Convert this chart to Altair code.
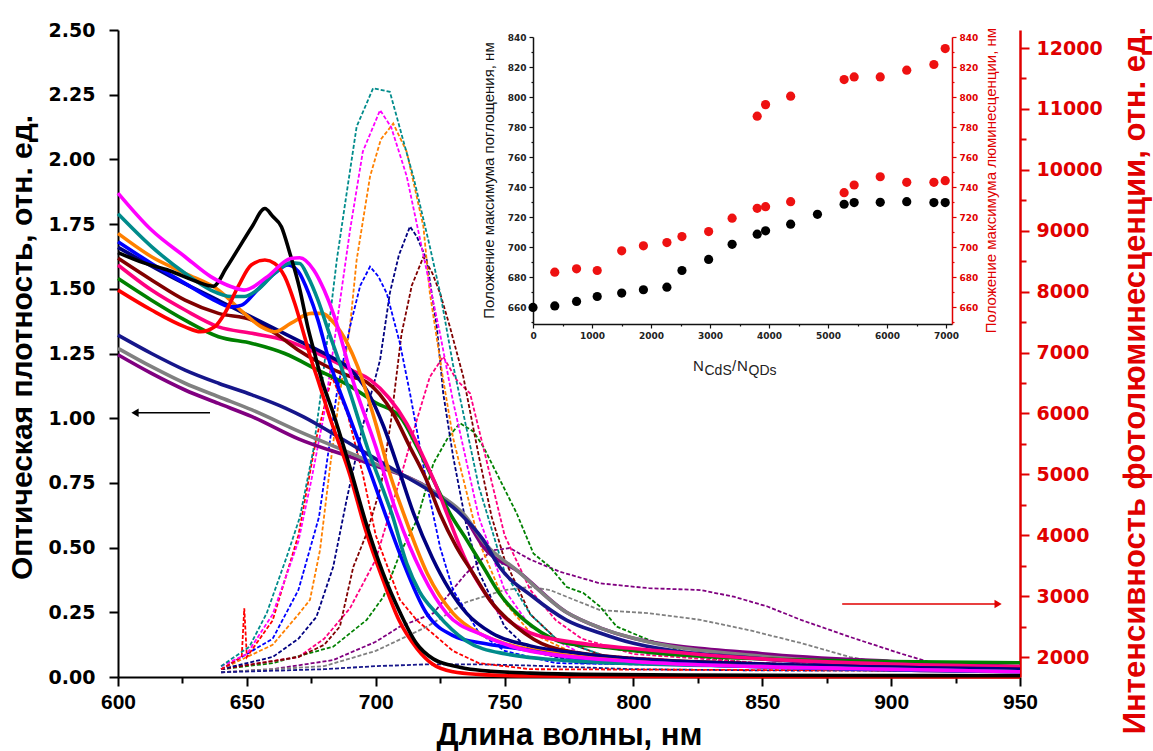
import altair as alt
import pandas as pd

# ---------------- absorbance spectra (left axis, optical density) ----------------
A_BLACK_WL = [600, 610, 620, 630, 637, 642, 647, 652, 657, 660, 663.4, 666.6, 670.5, 673.7, 676.3, 679, 683.5, 690, 696.4, 702.9, 709.4, 715.8, 722.3, 728.8, 735, 745, 760, 780, 820, 880, 950]
A_BLACK = [1.64, 1.60, 1.57, 1.53, 1.51, 1.58, 1.66, 1.74, 1.81, 1.78, 1.74, 1.64, 1.50, 1.35, 1.25, 1.15, 1.02, 0.81, 0.59, 0.40, 0.25, 0.13, 0.07, 0.046, 0.033, 0.022, 0.015, 0.01, 0.008, 0.006, 0.005]

A_RED_WL = [600, 613, 626, 632, 637.5, 641.4, 646.6, 651.7, 657, 660.8, 664.7, 668.6, 672.4, 675, 677.6, 682.3, 690, 696, 703, 709, 716, 722, 730, 740, 760, 800, 950]
A_RED = [1.495, 1.418, 1.353, 1.334, 1.353, 1.405, 1.508, 1.592, 1.611, 1.598, 1.547, 1.443, 1.315, 1.225, 1.147, 1.0, 0.78, 0.57, 0.37, 0.22, 0.11, 0.05, 0.02, 0.01, 0.004, 0.002, 0.0]

A_MAGENTA_WL = [600, 613, 626, 636, 644, 649, 658, 667, 670.5, 676, 680, 684, 691, 700, 708.2, 718, 727.5, 742, 760, 800, 850, 900, 950]
A_MAGENTA = [1.87, 1.727, 1.624, 1.547, 1.508, 1.495, 1.547, 1.617, 1.62, 1.572, 1.495, 1.392, 1.15, 0.89, 0.632, 0.40, 0.246, 0.16, 0.10, 0.06, 0.04, 0.03, 0.02]

A_TEAL_WL = [600, 613, 626, 636, 644, 649, 654, 662, 667, 670.5, 673.7, 677.6, 681.5, 690, 697, 703, 706.2, 712, 717, 723.6, 735, 750, 780, 850, 950]
A_TEAL = [1.79, 1.663, 1.56, 1.495, 1.47, 1.47, 1.495, 1.572, 1.60, 1.598, 1.547, 1.456, 1.341, 1.10, 0.88, 0.72, 0.632, 0.44, 0.33, 0.246, 0.14, 0.09, 0.06, 0.04, 0.02]

A_BLUE_WL = [600, 613, 626, 636, 644, 648, 654, 660.8, 666, 670, 674, 677.6, 681.5, 690, 699, 703.6, 710, 719.7, 730, 741.7, 755, 780, 850, 950]
A_BLUE = [1.682, 1.598, 1.521, 1.463, 1.43, 1.437, 1.495, 1.56, 1.592, 1.566, 1.482, 1.379, 1.237, 1.0, 0.761, 0.632, 0.46, 0.246, 0.16, 0.13, 0.11, 0.07, 0.04, 0.02]

A_ORANGE_WL = [600, 613, 626, 639, 649, 655.6, 660.8, 667, 675, 679, 684, 689, 693, 700, 705, 710.8, 720, 730, 740, 750, 770, 800, 850, 950]
A_ORANGE = [1.714, 1.624, 1.56, 1.495, 1.405, 1.353, 1.334, 1.366, 1.405, 1.405, 1.366, 1.289, 1.199, 0.98, 0.80, 0.632, 0.40, 0.246, 0.17, 0.13, 0.09, 0.06, 0.04, 0.02]

A_NAVY_WL = [600, 620, 640, 660, 670, 682, 690, 697, 703, 709, 714.7, 722, 735.3, 745, 760, 780, 800, 850, 950]
A_NAVY = [1.66, 1.55, 1.45, 1.35, 1.30, 1.24, 1.19, 1.10, 0.97, 0.80, 0.632, 0.46, 0.246, 0.17, 0.12, 0.09, 0.07, 0.05, 0.03]

A_WINE_WL = [600, 613, 626, 639, 652, 661, 670, 677.6, 684, 690.5, 696.4, 706.7, 713.2, 719.7, 724.9, 731.3, 737.8, 744.3, 754.6, 767.5, 790, 850, 950]
A_WINE = [1.618, 1.534, 1.456, 1.405, 1.379, 1.328, 1.263, 1.218, 1.186, 1.16, 1.14, 1.019, 0.89, 0.761, 0.632, 0.503, 0.40, 0.297, 0.194, 0.117, 0.08, 0.05, 0.03]

A_PINK_WL = [600, 613, 626, 639, 652, 664.7, 677.6, 690.5, 698, 705, 712, 718, 723, 727.6, 735, 742, 748, 760, 780, 800, 850, 900, 950]
A_PINK = [1.592, 1.495, 1.418, 1.353, 1.328, 1.302, 1.25, 1.186, 1.147, 1.08, 0.98, 0.86, 0.75, 0.632, 0.45, 0.33, 0.25, 0.17, 0.13, 0.11, 0.07, 0.05, 0.04]

A_GREEN_WL = [600, 613, 626, 639, 652, 664.7, 677.6, 690.5, 700, 709.4, 716, 722.4, 728.8, 735.3, 741.7, 748, 761, 774, 787, 806, 850, 900, 950]
A_GREEN = [1.54, 1.456, 1.379, 1.315, 1.289, 1.25, 1.186, 1.121, 1.06, 1.006, 0.89, 0.761, 0.632, 0.53, 0.426, 0.323, 0.194, 0.13, 0.117, 0.095, 0.07, 0.06, 0.055]

A_ROYAL_WL = [600, 613, 626, 639, 652, 664.7, 672, 683.5, 696.4, 709.4, 722.4, 732.7, 741.7, 748, 761, 774, 787, 800, 850, 900, 950]
A_ROYAL = [1.321, 1.25, 1.186, 1.135, 1.09, 1.04, 1.005, 0.94, 0.864, 0.787, 0.71, 0.632, 0.53, 0.426, 0.31, 0.22, 0.17, 0.13, 0.07, 0.045, 0.03]

A_GRAY_WL = [600, 613, 626, 639, 652, 670, 696, 722, 735, 742, 755, 774, 787, 800, 850, 900, 950]
A_GRAY = [1.27, 1.199, 1.135, 1.083, 1.032, 0.95, 0.84, 0.72, 0.62, 0.52, 0.41, 0.25, 0.19, 0.15, 0.08, 0.05, 0.035]

A_PURPLE_WL = [600, 613, 626, 639, 652, 670, 696, 722, 735, 742, 755, 774, 787, 800, 850, 900, 950]
A_PURPLE = [1.245, 1.173, 1.109, 1.057, 1.006, 0.92, 0.83, 0.72, 0.61, 0.50, 0.41, 0.25, 0.19, 0.15, 0.09, 0.06, 0.04]

# ---------------- photoluminescence spectra (right axis) ----------------
P_TEAL_WL = [640, 651, 657.7, 665.5, 670.6, 675.8, 678.4, 684.9, 688.7, 692.6, 699, 705.5, 712, 714.6, 721, 725, 730, 740, 750, 760, 770, 790, 850, 950]
P_TEAL = [1850, 2170, 2720, 3650, 4300, 5400, 6220, 8520, 9610, 10710, 11340, 11280, 10280, 9890, 8740, 7980, 6800, 4800, 3400, 2700, 2300, 2000, 1850, 1780]

P_MAGENTA_WL = [640, 650, 660, 670, 675, 680, 685, 690, 695, 701.7, 706, 712, 718, 725, 730, 740, 750, 760, 780, 850, 950]
P_MAGENTA = [1850, 2050, 2700, 3900, 4900, 6000, 7500, 9000, 10300, 10980, 10700, 9900, 8700, 7300, 6200, 4300, 3100, 2500, 2050, 1850, 1780]

P_ORANGE_WL = [640, 660, 670, 674.5, 678.4, 682.3, 686, 690, 692.6, 697.8, 702, 706.8, 712, 718.5, 721, 726, 730, 740, 750, 760, 780, 850, 950]
P_ORANGE = [1800, 2200, 2700, 2940, 3760, 5130, 6300, 7420, 8520, 9890, 10500, 10760, 10300, 9070, 7980, 6600, 5600, 3900, 2900, 2400, 2000, 1850, 1780]

P_NAVY_WL = [640, 660, 670, 677, 683.5, 688.7, 695, 701.7, 705.5, 709, 713.3, 716, 719.8, 723.7, 726.2, 730, 735, 740, 750, 760, 780, 850, 950]
P_NAVY = [1800, 2000, 2300, 2660, 3480, 4580, 5800, 6880, 7980, 8600, 9070, 8900, 8520, 7420, 6330, 5300, 4200, 3400, 2500, 2100, 1900, 1850, 1780]

P_BLUE_WL = [640, 660, 670, 678, 684.9, 690, 694, 697.8, 701, 704.3, 709.4, 713.3, 720, 725, 730, 740, 750, 770, 950]
P_BLUE = [1800, 2300, 3100, 4300, 6330, 7420, 8100, 8410, 8250, 7970, 7150, 6330, 4800, 3800, 3100, 2400, 2100, 1900, 1780]

P_WINE_WL = [640, 670, 680, 686.1, 691.3, 696.5, 702, 706, 710, 714, 718.5, 722, 725, 728.8, 734, 740, 745, 750, 760, 770, 790, 850, 950]
P_WINE = [1800, 2000, 2200, 2500, 3480, 4030, 4800, 5900, 7300, 8100, 8570, 8300, 7970, 7420, 6600, 5300, 4300, 3600, 2700, 2300, 2000, 1850, 1780]

P_PINK_WL = [640, 670, 680, 690, 700, 710, 716, 721, 726.2, 731.4, 736.6, 742, 750, 760, 770, 780, 800, 850, 950]
P_PINK = [1800, 2000, 2300, 2800, 3600, 5000, 5900, 6600, 6930, 6550, 6330, 5400, 4000, 3100, 2600, 2300, 2050, 1900, 1780]

P_GREEN_WL = [640, 660, 683.5, 696.5, 703, 709.4, 716, 722.4, 728, 732.7, 738, 741.8, 748.2, 754.7, 761.2, 767.6, 774.1, 780.6, 787, 793.5, 806, 826, 850, 950]
P_GREEN = [1800, 1900, 2170, 2610, 2990, 3700, 4250, 5180, 5600, 5840, 5700, 5450, 4910, 4360, 3700, 3480, 3150, 3050, 2830, 2500, 2280, 2000, 1880, 1780]

P_PURPLE_WL = [640, 660, 683.5, 700, 709.4, 722.4, 735, 745, 752, 760, 771.5, 787, 806, 826, 839, 852, 865, 884, 903.5, 916, 930, 950]
P_PURPLE = [1750, 1800, 1950, 2250, 2500, 2720, 3370, 3750, 3790, 3600, 3400, 3210, 3130, 3100, 2990, 2830, 2610, 2330, 2060, 1900, 1820, 1800]

P_GRAY_WL = [640, 680, 700, 720, 735, 750, 760, 767.6, 787, 806, 826, 845, 865, 884, 897, 920, 950]
P_GRAY = [1750, 1850, 2100, 2500, 2900, 3100, 3150, 3100, 2770, 2720, 2610, 2440, 2230, 2000, 1900, 1820, 1800]

P_ROYAL_WL = [640, 680, 700, 720, 740, 760, 780, 800, 850, 950]
P_ROYAL = [1750, 1800, 1850, 1880, 1880, 1860, 1830, 1800, 1780, 1770]

P_RED_WL = [640, 648, 649, 650, 660, 670, 677, 683, 689, 695, 700, 709.4, 716, 722, 730, 740, 760, 950]
P_RED = [1800, 2000, 2800, 2000, 2600, 4000, 5600, 6600, 6000, 5000, 4000, 2940, 2600, 2390, 2100, 1900, 1800, 1770]

# ---------------- inset: peak positions vs N_CdS/N_QDs ----------------
INSET_N_ABS = [0, 369, 738, 1088, 1503, 1871, 2269, 2524, 2976, 3374, 3799, 3941, 4366, 4820, 5272, 5442, 5884, 6333, 6793, 6985]
INSET_ABS_MAX = [660, 661, 664, 667.3, 669.6, 671.8, 673.5, 684.6, 692, 702, 708.8, 711, 715.4, 722, 728.7, 729.8, 730, 730.4, 729.8, 729.8]
INSET_N_PL = [369, 738, 1088, 1503, 1871, 2269, 2524, 2976, 3374, 3799, 3941, 4366, 5272, 5442, 5884, 6333, 6793, 6985,
              3799, 3941, 4366, 5272, 5442, 5884, 6333, 6793, 6985]
INSET_PL_MAX = [683.5, 685.7, 684.6, 697.7, 701, 703.2, 707.2, 710.5, 719.4, 726, 727.1, 730.4, 736.4, 741.5, 747, 743.3, 743.3, 744.4,
                787.3, 795, 800.6, 811.7, 813.4, 813.4, 817.9, 821.7, 832.3]

# arrows (wavelength from, to, level in optical density)
ARROW_NAME = ["left", "right"]
ARROW_FROM = [635.7, 881.0]
ARROW_TO = [606.6, 941.5]
ARROW_LEVEL = [1.021, 0.282]
ARROW_COLOR = ["#000000", "#e00000"]
ARROW_SHAPE = ["triangle-left", "triangle-right"]

COLORS = {
    "purple": "#800080", "gray": "#808080", "royal": "#16168a", "green": "#008000",
    "pink": "#ff0080", "wine": "#800000", "navy": "#000080", "orange": "#ff8000",
    "blue": "#0000ff", "teal": "#008b8b", "red": "#ff0000", "black": "#000000",
    "magenta": "#ff00ff",
}

ABS = [("purple", A_PURPLE_WL, A_PURPLE), ("gray", A_GRAY_WL, A_GRAY), ("royal", A_ROYAL_WL, A_ROYAL),
       ("green", A_GREEN_WL, A_GREEN), ("pink", A_PINK_WL, A_PINK), ("wine", A_WINE_WL, A_WINE),
       ("navy", A_NAVY_WL, A_NAVY), ("orange", A_ORANGE_WL, A_ORANGE), ("blue", A_BLUE_WL, A_BLUE),
       ("teal", A_TEAL_WL, A_TEAL), ("red", A_RED_WL, A_RED), ("black", A_BLACK_WL, A_BLACK),
       ("magenta", A_MAGENTA_WL, A_MAGENTA)]
PL = [("purple", P_PURPLE_WL, P_PURPLE), ("gray", P_GRAY_WL, P_GRAY), ("royal", P_ROYAL_WL, P_ROYAL),
      ("green", P_GREEN_WL, P_GREEN), ("pink", P_PINK_WL, P_PINK), ("wine", P_WINE_WL, P_WINE),
      ("navy", P_NAVY_WL, P_NAVY), ("orange", P_ORANGE_WL, P_ORANGE), ("blue", P_BLUE_WL, P_BLUE),
      ("red", P_RED_WL, P_RED), ("magenta", P_MAGENTA_WL, P_MAGENTA), ("teal", P_TEAL_WL, P_TEAL)]


def long_table(curves, valname):
    rows = []
    for k, (name, wl, vals) in enumerate(curves):
        for i, (w, v) in enumerate(zip(wl, vals)):
            rows.append({"series": name, "ord": k, "i": i, "wl": w, valname: v})
    return pd.DataFrame(rows)


abs_df = long_table(ABS, "od")
pl_df = long_table(PL, "pl")
inset_abs_df = pd.DataFrame({"n": INSET_N_ABS, "pos": INSET_ABS_MAX})
inset_pl_df = pd.DataFrame({"n": INSET_N_PL, "pos": INSET_PL_MAX})
arrow_df = pd.DataFrame({"name": ARROW_NAME, "x0": ARROW_FROM, "x1": ARROW_TO, "y": ARROW_LEVEL,
                         "color": ARROW_COLOR, "shape": ARROW_SHAPE})

W, H = 902, 647
RED = "#e00000"
TICKF = "DejaVu Sans"
TITLEF = "Liberation Sans"
color_scale = alt.Scale(domain=list(COLORS.keys()), range=list(COLORS.values()))
wl_scale = alt.Scale(domain=[600, 950], nice=False, zero=False)

x_axis = alt.Axis(
    orient="bottom", values=list(range(600, 951, 25)), format="d",
    labelExpr="datum.value % 50 === 0 ? datum.label : ''",
    labelFont=TITLEF, labelFontSize=21, labelFontWeight="bold", labelColor="black",
    labelPadding=5, labelFlush=False, labelOverlap=False,
    tickSize={"condition": {"test": "datum.value % 50 !== 0", "value": 6}, "value": 9},
    tickWidth=2, tickColor="black", domainColor="black", domainWidth=2, grid=False,
    title="Длина волны, нм", titleFont=TITLEF, titleFontSize=31, titleFontWeight="bold",
    titleColor="black", titleY=58, titleBaseline="middle")

QTEST = "abs(datum.value*4 - round(datum.value*4)) > 0.001"
y_axis = alt.Axis(
    orient="left", values=[round(i * 0.125, 3) for i in range(21)],
    labelExpr="abs(datum.value*4 - round(datum.value*4)) < 0.001 ? format(datum.value, '.2f') : ''",
    labelFont=TICKF, labelFontSize=19, labelFontWeight="bold", labelColor="black",
    labelPadding=14, labelOverlap=False, labelFlush=False,
    tickSize={"condition": {"test": QTEST, "value": 6}, "value": 9},
    tickWidth=2, tickColor="black", domainColor="black", domainWidth=2, grid=False,
    title="Оптическая плотность, отн. ед.", titleFont=TITLEF, titleFontSize=30, titleFontWeight="bold",
    titleColor="black", titleAngle=270, titleX=-96, titleY=317, titleBaseline="middle", titleAlign="center")

y_pl_axis = alt.Axis(
    orient="right", values=list(range(2000, 12001, 500)), format="d",
    labelExpr="datum.value % 1000 === 0 ? datum.label : ''",
    labelFont=TICKF, labelFontSize=19, labelFontWeight="bold", labelColor=RED,
    labelPadding=7, labelOverlap=False, labelFlush=False,
    tickSize={"condition": {"test": "datum.value % 1000 !== 0", "value": 6}, "value": 9},
    tickWidth=2, tickColor=RED, domainColor=RED, domainWidth=2.5, grid=False,
    title="Интенсивность фотолюминесценции, отн. ед.", titleFont=TITLEF, titleFontSize=31,
    titleFontWeight="bold", titleColor=RED, titleAngle=270, titleX=115, titleY=350,
    titleBaseline="middle", titleAlign="center")

# photoluminescence (dashed)
pl_chart = alt.Chart(pl_df).mark_line(strokeWidth=1.8, strokeDash=[4, 2]).encode(
    x=alt.X("wl:Q", scale=wl_scale, axis=None),
    y=alt.Y("pl:Q", scale=alt.Scale(domain=[1672, 12296], nice=False, zero=False), axis=y_pl_axis),
    color=alt.Color("series:N", scale=color_scale, legend=None),
    detail="ord:N",
    order="i:Q",
)

abs_lines = alt.Chart(abs_df).mark_line(strokeWidth=3.6, interpolate="monotone").encode(
    x=alt.X("wl:Q", scale=wl_scale, axis=x_axis),
    y=alt.Y("od:Q", scale=alt.Scale(domain=[0, 2.5], nice=False, zero=False), axis=y_axis),
    color=alt.Color("series:N", scale=color_scale, legend=None),
    detail="ord:N",
    order="i:Q",
)

arrow_lines = alt.Chart(arrow_df).mark_rule(strokeWidth=1.6).encode(
    x="x0:Q", x2="x1:Q", y="y:Q",
    color=alt.Color("color:N", scale=None),
)
arrow_heads = alt.Chart(arrow_df).mark_point(filled=True, size=70, opacity=1).encode(
    x="x1:Q", y="y:Q",
    color=alt.Color("color:N", scale=None),
    shape=alt.Shape("shape:N", scale=None),
)

# inset axis title pieces N_CdS / N_QDs
title_parts = pd.DataFrame({
    "t": ["N", "CdS", "/", "N", "QDs"],
    "px": [575, 586.5, 614, 619, 630.5],
    "py": [341, 345, 341, 341, 345],
    "fs": [15, 14, 15, 15, 14],
})
inset_title = alt.Chart(title_parts).mark_text(align="left", baseline="alphabetic", font=TITLEF, color="#222").encode(
    x=alt.X("px:Q", scale=None), y=alt.Y("py:Q", scale=None), text="t:N",
    size=alt.Size("fs:Q", scale=None),
)

main_abs = alt.layer(abs_lines, arrow_lines, arrow_heads)

IN_X = alt.Scale(domain=[0, 7100], range=[415, 834], nice=False, zero=False)
IN_Y = alt.Scale(domain=[649, 840], range=[294, 7], nice=False, zero=False)

inset_x_axis = alt.Axis(
    orient="bottom", offset=-353, values=list(range(0, 7001, 500)), format="d",
    labelExpr="datum.value % 1000 === 0 ? datum.label : ''",
    labelFont=TICKF, labelFontSize=9, labelFontWeight="bold", labelColor="#222",
    labelPadding=3, labelOverlap=False, labelFlush=False,
    tickSize={"condition": {"test": "datum.value % 1000 !== 0", "value": 2}, "value": 4},
    tickWidth=1.2, tickColor="#111", domainColor="#111", domainWidth=1.5, grid=False, title=None)
inset_y_axis = alt.Axis(
    orient="left", offset=-415, values=list(range(650, 841, 10)), format="d",
    labelExpr="datum.value % 20 === 0 ? datum.label : ''",
    labelFont=TICKF, labelFontSize=9, labelFontWeight="bold", labelColor="#222",
    labelPadding=3, labelOverlap=False, labelFlush=False,
    tickSize={"condition": {"test": "datum.value % 20 !== 0", "value": 2}, "value": 4},
    tickWidth=1.2, tickColor="#111", domainColor="#111", domainWidth=1.5, grid=False,
    title="Положение максимума поглощения, нм", titleFont=TITLEF, titleFontSize=15,
    titleFontWeight="normal", titleColor="#111", titleAngle=270, titleX=-45, titleY=150,
    titleBaseline="middle", titleAlign="center")
inset_y2_axis = alt.Axis(
    orient="right", offset=-68, values=list(range(650, 841, 10)), format="d",
    labelExpr="datum.value % 20 === 0 ? datum.label : ''",
    labelFont=TICKF, labelFontSize=9, labelFontWeight="bold", labelColor=RED,
    labelPadding=3, labelOverlap=False, labelFlush=False,
    tickSize={"condition": {"test": "datum.value % 20 !== 0", "value": 2}, "value": 4},
    tickWidth=1.2, tickColor=RED, domainColor=RED, domainWidth=1.5, grid=False,
    title="Положение максимума люминесценции, нм", titleFont=TITLEF, titleFontSize=15,
    titleFontWeight="normal", titleColor=RED, titleAngle=270, titleX=38, titleY=150,
    titleBaseline="middle", titleAlign="center")

inset_abs = alt.Chart(inset_abs_df).mark_circle(size=85, opacity=1, color="#000000").encode(
    x=alt.X("n:Q", scale=IN_X, axis=inset_x_axis),
    y=alt.Y("pos:Q", scale=IN_Y, axis=inset_y_axis),
)
inset_pl = alt.Chart(inset_pl_df).mark_circle(size=85, opacity=1, color="#ee1111").encode(
    x=alt.X("n:Q", scale=IN_X, axis=None),
    y=alt.Y("pos:Q", scale=IN_Y, axis=inset_y2_axis),
)

chart = alt.layer(pl_chart, main_abs, inset_abs, inset_pl, inset_title).resolve_scale(
    x="independent", y="independent", color="independent", shape="independent", size="independent"
).resolve_axis(x="independent", y="independent").properties(
    width=W, height=H,
    autosize=alt.AutoSizeParams(type="none"),
    padding={"left": 118, "top": 30, "right": 133, "bottom": 74},
    background="white",
).configure_view(stroke=None)

chart.save("out.html", embed_options={"renderer": "svg", "actions": False})
